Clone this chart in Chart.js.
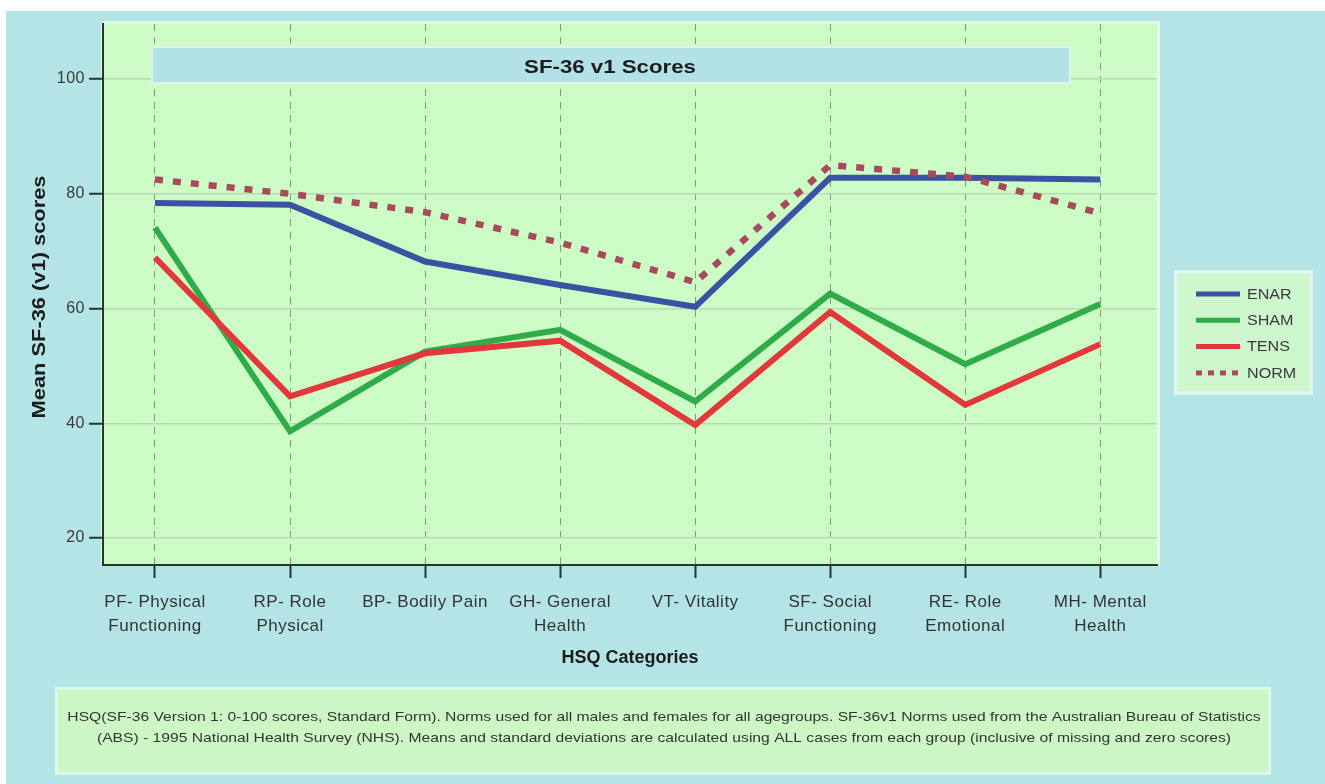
<!DOCTYPE html>
<html><head><meta charset="utf-8">
<script src="https://cdn.jsdelivr.net/npm/chart.js@4/dist/chart.umd.min.js"></script>
<style>html,body{margin:0;padding:0;background:#fff;}canvas{display:block;}</style>
</head><body>
<canvas id="c" width="1325" height="784"></canvas>
<script>
const categories = [["PF- Physical","Functioning"],["RP- Role","Physical"],"BP- Bodily Pain",["GH- General","Health"],"VT- Vitality",["SF- Social","Functioning"],["RE- Role","Emotional"],["MH- Mental","Health"]];
const enar = [78.4, 78.1, 68.2, 64.1, 60.3, 82.8, 82.8, 82.5];
const sham = [74.1, 38.6, 52.5, 56.3, 43.8, 62.6, 50.3, 60.8];
const tens = [68.9, 44.7, 52.2, 54.4, 39.7, 59.4, 43.2, 53.8];
const norm = [82.5, 80.0, 76.8, 71.5, 64.6, 85.0, 83.0, 76.6];
const yTicks = [20, 40, 60, 80, 100];
const seriesNames = ["ENAR", "SHAM", "TENS", "NORM"];
const seriesColors = ["#3b52a2", "#2fab4a", "#e2383c", "#a64a5c"];
const chartTitle = "SF-36 v1 Scores";
const yTitle = "Mean SF-36 (v1) scores";
const xTitle = "HSQ Categories";
const footnote = [
  "HSQ(SF-36 Version 1: 0-100 scores, Standard Form). Norms used for all males and females for all agegroups. SF-36v1 Norms used from the Australian Bureau of Statistics",
  "(ABS) - 1995 National Health Survey (NHS). Means and standard deviations are calculated using ALL cases from each group (inclusive of missing and zero scores)"
];

const FONT = '"Liberation Sans", Arial, sans-serif';
const toXY = arr => arr.map((v, i) => ({x: i, y: v}));
const seriesData = [enar, sham, tens, norm];

function stretchText(ctx, text, x, y, sx, rot) {
  ctx.save();
  ctx.translate(x, y);
  if (rot) ctx.rotate(rot);
  ctx.scale(sx, 1);
  ctx.fillText(text, 0, 0);
  ctx.restore();
}

const decor = {
  id: 'decor',
  beforeDraw(chart) {
    const ctx = chart.ctx, a = chart.chartArea;
    ctx.save();
    ctx.fillStyle = '#ffffff';
    ctx.fillRect(0, 0, chart.width, chart.height);
    ctx.fillStyle = '#b5e4e7';
    ctx.fillRect(6, 11, chart.width - 6, chart.height - 11);
    // plot area
    ctx.fillStyle = '#e2fbe6';
    ctx.fillRect(a.left - 2, a.top - 3, a.right - a.left + 5, a.bottom - a.top + 3);
    ctx.fillStyle = '#ccfbc6';
    ctx.fillRect(a.left, a.top, a.right - a.left, a.bottom - a.top);
    // legend box
    ctx.fillStyle = '#dcf6ee';
    ctx.fillRect(1174, 270, 139, 125);
    ctx.fillStyle = '#cdf6cd';
    ctx.fillRect(1178, 274, 131, 117);
    // footer box
    ctx.fillStyle = '#ddf7ea';
    ctx.fillRect(55, 687, 1216, 88);
    ctx.fillStyle = '#ccf7c4';
    ctx.fillRect(58, 690, 1210, 82);
    ctx.restore();
    ctx.letterSpacing = '0.5px';
  },
  afterDraw(chart) {
    const ctx = chart.ctx;
    ctx.letterSpacing = '0px';
    ctx.save();
    // title bar
    ctx.fillStyle = '#dff3ee';
    ctx.fillRect(151, 46, 920, 38);
    ctx.fillStyle = '#b2e2e7';
    ctx.fillRect(153, 48, 916, 34);
    ctx.fillStyle = '#1c1c1c';
    ctx.textAlign = 'center';
    ctx.textBaseline = 'middle';
    ctx.font = 'bold 19px ' + FONT;
    stretchText(ctx, chartTitle, 610, 68, 1.17);
    // axis titles
    ctx.font = 'bold 18px ' + FONT;
    ctx.fillText(xTitle, 630, 658);
    ctx.font = 'bold 19px ' + FONT;
    stretchText(ctx, yTitle, 40, 297, 1.15, -Math.PI / 2);
    // legend
    ctx.textAlign = 'left';
    ctx.font = '14px ' + FONT;
    chart.data.datasets.forEach((ds, i) => {
      const y = 294 + i * 26.3;
      ctx.strokeStyle = ds.borderColor;
      ctx.lineWidth = 5;
      ctx.setLineDash(ds.borderDash && ds.borderDash.length ? [6, 6] : []);
      ctx.beginPath();
      ctx.moveTo(1196, y);
      ctx.lineTo(1240, y);
      ctx.stroke();
      ctx.setLineDash([]);
      ctx.fillStyle = '#3a3a3a';
      stretchText(ctx, ds.label, 1247, y + 1, 1.15);
    });
    // footnote
    ctx.textAlign = 'center';
    ctx.fillStyle = '#333';
    ctx.font = '13.5px ' + FONT;
    stretchText(ctx, footnote[0], 664, 717, 1.16);
    stretchText(ctx, footnote[1], 664, 738, 1.16);
    ctx.restore();
  }
};

new Chart(document.getElementById('c'), {
  type: 'line',
  data: {
    datasets: seriesNames.map((name, i) => ({
      label: name,
      data: toXY(seriesData[i]),
      borderColor: seriesColors[i],
      backgroundColor: seriesColors[i],
      borderWidth: i === 3 ? 6.5 : 6,
      borderDash: i === 3 ? [8, 10] : [],
      borderCapStyle: 'butt',
      borderJoinStyle: 'miter',
      pointRadius: 0,
      tension: 0,
      fill: false,
      order: 3 - i
    }))
  },
  options: {
    responsive: false,
    animation: false,
    devicePixelRatio: 1,
    layout: {padding: {top: 24, right: 168, left: 0, bottom: 0}},
    plugins: {legend: {display: false}, title: {display: false}, tooltip: {enabled: false}},
    scales: {
      x: {
        type: 'linear',
        min: -0.385,
        max: 7.42,
        afterFit(s) { s.height = 219; },
        afterBuildTicks(s) { s.ticks = categories.map((_, i) => ({value: i})); },
        ticks: {
          autoSkip: false, maxRotation: 0, minRotation: 0, padding: 12,
          color: '#333', font: {family: FONT, size: 17, lineHeight: 1.42},
          callback: (v) => categories[v]
        },
        grid: {color: '#7d9c7d', lineWidth: 1, tickColor: '#22382a', tickLength: 13, tickWidth: 2},
        border: {color: '#22382a', width: 2, dash: [7, 6]}
      },
      y: {
        min: 15.3,
        max: 109.6,
        afterFit(s) { s.width = 103; },
        afterBuildTicks(s) { s.ticks = yTicks.map(v => ({value: v})); },
        ticks: {padding: 4, color: '#3a3a3a', font: {family: FONT, size: 16}},
        grid: {color: '#b9d9b2', lineWidth: 1.5, tickColor: '#22382a', tickLength: 14, tickWidth: 2},
        border: {color: '#22382a', width: 2}
      }
    }
  },
  plugins: [decor]
});
</script>
</body></html>
